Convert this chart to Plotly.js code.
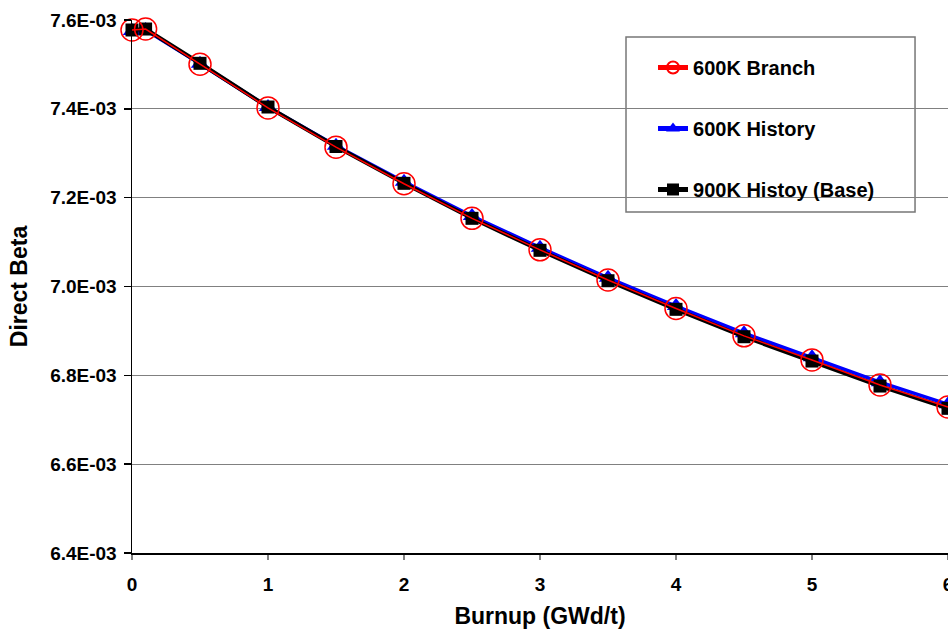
<!DOCTYPE html>
<html>
<head>
<meta charset="utf-8">
<script src="https://cdn.plot.ly/plotly-3.0.1.min.js"></script>
<style>
  html, body { margin: 0; padding: 0; background: #fff; }
  #chart { width: 948px; height: 632px; }
</style>
</head>
<body>
<div id="chart"></div>
<script>
// Burnup (GWd/t)
const burnup = [0, 0.1, 0.5, 1, 1.5, 2, 2.5, 3, 3.5, 4, 4.5, 5, 5.5, 6];
// Direct beta values
const branch600K = [0.0075775, 0.0075797, 0.0075005, 0.0074021, 0.0073137, 0.0072313, 0.0071535,
                    0.0070825, 0.0070145, 0.0069506, 0.0068889, 0.0068347, 0.0067784, 0.0067287];
const history600K = [0.0075755, 0.0075777, 0.0075015, 0.0074041, 0.0073167, 0.0072358, 0.0071585,
                     0.0070875, 0.0070197, 0.0069560, 0.0068949, 0.0068407, 0.0067847, 0.0067347];
const history900KBase = [0.0075775, 0.0075797, 0.0075025, 0.0074041, 0.0073152, 0.0072323, 0.0071535,
                         0.0070815, 0.0070130, 0.0069486, 0.0068869, 0.0068322, 0.0067759, 0.0067257];
const seriesNames = ['600K Branch', '600K History', '900K Histoy (Base)'];
const yTickValues = [0.0064, 0.0066, 0.0068, 0.0070, 0.0072, 0.0074, 0.0076];
const yTickLabels = ['6.4E-03', '6.6E-03', '6.8E-03', '7.0E-03', '7.2E-03', '7.4E-03', '7.6E-03'];
const xTickValues = [0, 1, 2, 3, 4, 5, 6];

const FONT = 'Liberation Sans, Arial, sans-serif';

const traces = [
  {
    x: burnup, y: history600K, name: seriesNames[1], legendrank: 2, legendgroup: 'b',
    mode: 'lines+markers', cliponaxis: false,
    line: { color: '#0000ff', width: 3.5 },
    marker: { symbol: 'triangle-up', size: 16, color: '#0000ff' }
  },
  {
    x: burnup, y: history900KBase, name: seriesNames[2], legendrank: 3, legendgroup: 'c',
    mode: 'lines+markers', cliponaxis: false,
    line: { color: '#000000', width: 4 },
    marker: { symbol: 'square', size: 13, color: '#000000' }
  },
  {
    x: burnup, y: branch600K, name: seriesNames[0], legendrank: 1, legendgroup: 'a',
    mode: 'lines+markers', cliponaxis: false,
    line: { color: '#ff0000', width: 1.5 },
    marker: { symbol: 'circle-open', size: 22, color: '#ff0000', line: { color: '#ff0000', width: 1.5 } }
  }
];

const layout = {
  width: 948, height: 632,
  margin: { l: 132, r: 0, t: 20, b: 79 },
  paper_bgcolor: '#ffffff', plot_bgcolor: '#ffffff',
  font: { family: FONT, color: '#000000' },
  showlegend: true,
  legend: {
    x: 0.6385, xanchor: 'left', y: 0.9475, yanchor: 'top',
    bgcolor: 'rgba(0,0,0,0)', borderwidth: 0,
    tracegroupgap: 32, itemsizing: 'constant',
    font: { family: FONT, size: 20, weight: 'bold', color: '#000000' }
  },
  shapes: [
    { type: 'rect', xref: 'paper', yref: 'paper', x0: 0.6054, x1: 0.9596, y0: 0.6398, y1: 0.9681,
      line: { color: '#777777', width: 1.5 }, fillcolor: '#ffffff', layer: 'below' }
  ],
  xaxis: {
    range: [0, 6], tickvals: xTickValues, ticktext: xTickValues.map(String),
    showgrid: false, zeroline: false, ticklabeloverflow: 'allow',
    showline: true, linecolor: '#000000', linewidth: 1.5, mirror: false,
    ticks: 'outside', ticklen: 5, tickcolor: '#808080', tickwidth: 1.5, ticklabelstandoff: 9,
    tickfont: { family: FONT, size: 19, weight: 'bold', color: '#000000' },
    title: { text: 'Burnup (GWd/t)', font: { family: FONT, size: 23, weight: 'bold', color: '#000000' }, standoff: 13 }
  },
  yaxis: {
    range: [0.0064, 0.0076], tickvals: yTickValues, ticktext: yTickLabels,
    showgrid: true, gridcolor: '#808080', gridwidth: 1.2, zeroline: false,
    showline: true, linecolor: '#000000', linewidth: 1.5, mirror: false,
    ticks: 'outside', ticklen: 7, tickcolor: '#000000', tickwidth: 1.5, ticklabelstandoff: 3,
    tickfont: { family: FONT, size: 19, weight: 'bold', color: '#000000' },
    title: { text: 'Direct Beta', font: { family: FONT, size: 23, weight: 'bold', color: '#000000' }, standoff: 16 }
  }
};

Plotly.newPlot('chart', traces, layout, { displayModeBar: false, staticPlot: true });
</script>
</body>
</html>
